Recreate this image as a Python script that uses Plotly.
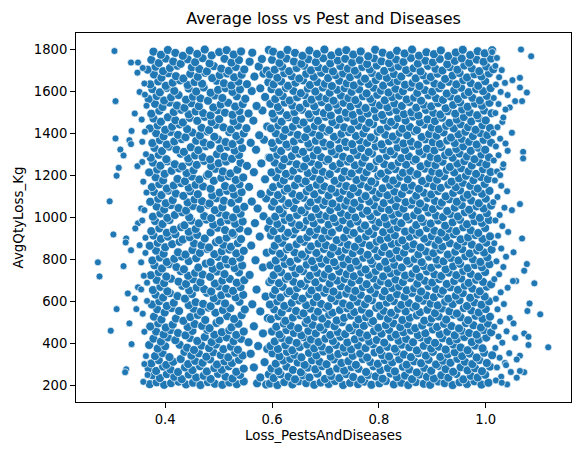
import plotly.graph_objects as go

# Points, stored as flat x, y pairs.
# x = Loss_PestsAndDiseases in thousandths, y = AvgQtyLoss_Kg

LEFT_OUTLIERS = [
    305, 1793, 307, 1554, 336, 1738, 349, 1738, 348, 1690, 343, 1495, 337, 1412,
    307, 1376, 333, 1368, 336, 1349, 316, 1323, 322, 1295, 313, 1236, 309, 1198,
    348, 1244, 296, 1076, 357, 1360, 352, 1598, 361, 1638, 355, 1042, 361, 1034,
    303, 918, 274, 785, 277, 718, 322, 767, 327, 899, 326, 880, 349, 971, 344, 947,
    336, 843, 352, 867, 355, 785, 330, 637, 343, 613, 349, 666, 355, 656, 309, 562,
    346, 562, 298, 459, 333, 494, 337, 395, 327, 275, 325, 261, 361, 454,
    358, 1712, 362, 1585, 356, 1466, 364, 1301, 359, 1170, 365, 1118, 357, 985,
    363, 902, 360, 721, 366, 688, 358, 540, 364, 338, 361, 300, 367, 248, 359, 215,
    365, 1532, 362, 1408, 357, 1264, 363, 830, 366, 601,
]

LEFT_CLUSTER_LOW = [
    371, 204, 384, 213, 398, 201, 411, 209, 425, 216, 439, 203, 452, 211, 466, 200, 480, 214, 493, 206, 507, 201, 520, 212, 534, 204, 547, 217, 572, 208, 589, 202,
    376, 247, 390, 233, 403, 252, 417, 239, 431, 228, 444, 250, 458, 236, 472, 244, 485, 229, 499, 253, 513, 240, 526, 231, 540, 248, 578, 236, 594, 251,
    369, 279, 383, 267, 396, 288, 410, 274, 424, 262, 437, 284, 451, 271, 465, 290, 478, 265, 492, 281, 506, 273, 519, 289, 533, 263, 547, 278, 566, 284,
    374, 303, 388, 318, 402, 296, 415, 311, 429, 324, 443, 300, 456, 315, 470, 306, 484, 322, 497, 298, 511, 313, 525, 305, 538, 320, 586, 309,
    381, 338, 395, 352, 408, 333, 436, 358, 449, 340, 463, 351, 477, 335, 490, 356, 504, 343, 518, 332, 531, 354, 545, 341, 560, 349,
    370, 391, 386, 374, 400, 385, 427, 392, 441, 378, 454, 367, 468, 388, 482, 376, 495, 393, 509, 371, 523, 383, 536, 368, 574, 386, 591, 372,
    378, 421, 392, 407, 405, 427, 419, 414, 446, 424, 460, 410, 474, 429, 487, 405, 501, 418, 515, 427, 528, 409, 542, 420, 556, 404,
    383, 455, 397, 441, 410, 462, 424, 448, 438, 437, 451, 458, 479, 463, 492, 440, 506, 452, 520, 461, 533, 439, 547, 455, 583, 446,
    372, 479, 387, 494, 401, 474, 414, 488, 442, 477, 455, 491, 469, 482, 483, 471, 496, 496, 524, 475, 537, 492, 566, 480,
    379, 526, 393, 512, 420, 517, 434, 506, 447, 524, 461, 534, 475, 510, 502, 507, 516, 529, 529, 515, 543, 533, 592, 519,
    385, 561, 399, 546, 412, 567, 426, 553, 453, 564, 467, 550, 481, 569, 494, 545, 508, 558, 522, 566, 549, 560, 578, 551,
]

LEFT_CLUSTER_MID = [
    375, 584, 389, 599, 403, 577, 416, 592, 444, 581, 457, 595, 471, 587, 485, 576, 498, 601, 512, 589, 539, 597, 563, 585,
    382, 631, 396, 617, 409, 638, 423, 624, 437, 612, 450, 634, 478, 640, 491, 614, 505, 628, 519, 636, 532, 618, 546, 630, 588, 622,
    377, 653, 391, 668, 404, 647, 432, 673, 445, 651, 459, 665, 473, 657, 486, 646, 500, 671, 514, 659, 527, 649, 541, 667, 571, 655,
    384, 701, 398, 686, 411, 707, 425, 693, 439, 682, 452, 704, 466, 690, 493, 684, 507, 698, 521, 706, 534, 688, 548, 700, 595, 691,
    373, 724, 388, 738, 402, 717, 429, 743, 443, 721, 456, 735, 470, 727, 484, 716, 497, 741, 511, 729, 538, 737, 558, 725,
    380, 771, 394, 756, 407, 777, 421, 763, 435, 752, 462, 760, 476, 779, 489, 754, 503, 768, 517, 776, 530, 758, 544, 770, 583, 761,
    376, 794, 390, 808, 403, 787, 417, 802, 431, 813, 444, 791, 458, 805, 485, 786, 499, 811, 513, 799, 526, 789, 540, 807, 569, 795,
    383, 841, 397, 826, 424, 833, 438, 822, 451, 844, 465, 830, 479, 849, 492, 824, 506, 838, 520, 846, 533, 828, 547, 840, 590, 831,
    371, 864, 386, 878, 400, 857, 413, 872, 427, 883, 454, 875, 468, 867, 482, 856, 495, 881, 509, 869, 523, 859, 536, 877, 561, 865,
    378, 913, 392, 897, 405, 908, 419, 919, 433, 894, 446, 905, 460, 916, 474, 899, 501, 891, 515, 903, 528, 918, 542, 896, 577, 908,
    374, 934, 389, 947, 403, 926, 416, 941, 430, 953, 444, 931, 457, 944, 485, 928, 498, 950, 512, 939, 526, 925, 539, 946, 555, 933, 593, 948,
    381, 982, 395, 968, 408, 987, 436, 962, 449, 984, 463, 971, 477, 989, 490, 965, 504, 977, 518, 986, 531, 969, 545, 980, 568, 972,
    377, 1003, 391, 1018, 404, 997, 418, 1011, 432, 1024, 445, 1000, 473, 1006, 486, 996, 500, 1021, 514, 1009, 527, 999, 541, 1017, 584, 1005,
    384, 1051, 398, 1037, 411, 1058, 425, 1044, 439, 1032, 452, 1054, 466, 1040, 480, 1059, 493, 1034, 507, 1048, 534, 1038, 548, 1050, 573, 1042,
]

LEFT_CLUSTER_HIGH = [
    372, 1074, 387, 1088, 401, 1067, 414, 1082, 442, 1071, 455, 1085, 469, 1077, 483, 1066, 496, 1091, 510, 1079, 524, 1069, 537, 1087, 562, 1075, 589, 1090,
    379, 1121, 393, 1106, 406, 1127, 420, 1113, 434, 1102, 447, 1124, 461, 1110, 488, 1104, 502, 1118, 516, 1126, 529, 1108, 543, 1120, 579, 1111,
    375, 1144, 389, 1158, 403, 1137, 416, 1152, 430, 1163, 444, 1141, 457, 1155, 471, 1147, 485, 1136, 512, 1149, 526, 1139, 539, 1157, 557, 1145,
    382, 1191, 396, 1176, 423, 1183, 437, 1172, 450, 1194, 464, 1180, 478, 1199, 491, 1174, 505, 1188, 519, 1196, 532, 1178, 546, 1190, 587, 1181,
    370, 1214, 385, 1228, 399, 1207, 412, 1222, 426, 1233, 440, 1211, 453, 1225, 481, 1206, 494, 1231, 508, 1219, 522, 1209, 535, 1227, 566, 1215,
    377, 1261, 391, 1246, 404, 1267, 418, 1253, 432, 1242, 445, 1264, 459, 1250, 473, 1269, 486, 1244, 500, 1258, 514, 1266, 541, 1260, 553, 1245, 580, 1257,
    373, 1284, 388, 1298, 402, 1277, 429, 1303, 443, 1281, 456, 1295, 470, 1287, 484, 1276, 497, 1301, 511, 1289, 525, 1279, 538, 1297, 594, 1285,
    380, 1331, 394, 1316, 407, 1337, 421, 1323, 435, 1312, 448, 1334, 462, 1320, 476, 1339, 503, 1328, 517, 1336, 530, 1318, 544, 1330, 570, 1322,
    376, 1354, 390, 1368, 403, 1347, 417, 1362, 431, 1373, 458, 1365, 472, 1357, 485, 1346, 499, 1371, 513, 1359, 526, 1349, 540, 1367, 560, 1355, 585, 1370,
    383, 1401, 397, 1386, 410, 1407, 424, 1393, 438, 1382, 451, 1404, 465, 1390, 479, 1409, 492, 1384, 520, 1406, 533, 1388, 547, 1400, 576, 1391,
    371, 1424, 386, 1438, 400, 1417, 413, 1432, 427, 1443, 441, 1421, 468, 1427, 482, 1416, 495, 1441, 509, 1429, 523, 1419, 536, 1437, 552, 1425, 591, 1433,
    378, 1471, 392, 1456, 405, 1477, 419, 1463, 433, 1452, 446, 1474, 460, 1460, 474, 1479, 487, 1454, 501, 1468, 528, 1458, 542, 1470, 565, 1461,
]

LEFT_CLUSTER_TOP = [
    374, 1494, 389, 1508, 416, 1502, 430, 1513, 444, 1491, 457, 1505, 471, 1497, 485, 1486, 498, 1511, 512, 1499, 526, 1489, 539, 1507, 556, 1495, 582, 1509,
    381, 1541, 395, 1526, 408, 1547, 422, 1533, 436, 1522, 449, 1544, 463, 1530, 490, 1524, 504, 1538, 518, 1546, 531, 1528, 545, 1540, 571, 1531, 596, 1545,
    369, 1564, 384, 1578, 398, 1557, 411, 1572, 425, 1583, 439, 1561, 452, 1575, 466, 1567, 480, 1556, 493, 1581, 507, 1569, 534, 1577, 550, 1565, 587, 1574,
    376, 1611, 390, 1596, 403, 1617, 417, 1603, 444, 1614, 458, 1600, 472, 1619, 485, 1594, 499, 1608, 513, 1616, 526, 1598, 540, 1610, 562, 1602, 578, 1615,
    372, 1634, 387, 1648, 401, 1627, 414, 1642, 428, 1653, 442, 1631, 455, 1645, 469, 1637, 496, 1651, 510, 1639, 524, 1629, 537, 1647, 553, 1635, 593, 1644,
    379, 1681, 393, 1666, 406, 1687, 420, 1673, 434, 1662, 447, 1684, 461, 1670, 475, 1689, 488, 1664, 502, 1678, 516, 1686, 529, 1668, 543, 1680, 567, 1671, 584, 1685,
    367, 1704, 382, 1718, 396, 1697, 409, 1712, 423, 1723, 450, 1715, 464, 1707, 478, 1696, 491, 1721, 505, 1709, 519, 1699, 532, 1717, 548, 1705, 575, 1719, 590, 1700,
    374, 1751, 388, 1736, 401, 1757, 415, 1743, 429, 1732, 442, 1754, 456, 1740, 470, 1759, 483, 1734, 511, 1756, 524, 1738, 538, 1750, 558, 1742, 581, 1755,
    378, 1790, 392, 1775, 405, 1798, 419, 1784, 433, 1770, 446, 1795, 460, 1779, 474, 1800, 487, 1772, 501, 1788, 515, 1797, 528, 1776, 542, 1791, 563, 1785, 594, 1798,
]

RIGHT_CLUSTER_LOW = [
    596, 207, 610, 200, 623, 214, 638, 203, 650, 218, 664, 209, 679, 201, 691, 212, 706, 205, 718, 219, 733, 200, 746, 210, 761, 204, 773, 216, 786, 201, 801, 208, 813, 219, 828, 203, 842, 211, 855, 200, 869, 214, 884, 206, 896, 201, 911, 217, 923, 209, 938, 200, 951, 213, 965, 205, 979, 218, 992, 202, 1005, 211,
    603, 233, 616, 251, 631, 240, 643, 227, 658, 246, 670, 236, 685, 254, 699, 229, 711, 243, 726, 233, 739, 252, 752, 238, 767, 226, 780, 248, 794, 241, 807, 230, 822, 255, 834, 237, 849, 245, 862, 228, 876, 250, 890, 239, 903, 231, 917, 247, 930, 235, 945, 253, 958, 227, 972, 244, 985, 236, 999, 249,
    599, 279, 612, 266, 627, 288, 639, 272, 654, 261, 667, 283, 681, 275, 694, 290, 708, 264, 722, 279, 735, 269, 749, 286, 762, 277, 776, 262, 790, 289, 803, 271, 817, 281, 830, 265, 845, 287, 857, 274, 871, 260, 885, 282, 898, 268, 912, 291, 925, 276, 939, 263, 953, 285, 966, 270, 980, 280, 993, 266, 1008, 288,
    607, 302, 621, 317, 634, 325, 648, 307, 661, 296, 675, 318, 689, 311, 702, 299, 716, 322, 730, 305, 743, 314, 757, 296, 770, 324, 784, 310, 798, 301, 811, 319, 825, 308, 838, 323, 852, 297, 866, 313, 879, 304, 893, 320, 907, 298, 920, 316, 934, 306, 947, 325, 961, 311, 975, 300, 988, 319, 1002, 305,
    601, 351, 614, 337, 628, 358, 642, 344, 655, 332, 669, 353, 683, 341, 696, 360, 710, 335, 724, 348, 737, 357, 751, 339, 765, 350, 778, 331, 792, 355, 806, 343, 819, 336, 833, 359, 847, 345, 860, 333, 874, 352, 888, 340, 901, 358, 915, 334, 929, 347, 942, 356, 956, 338, 970, 350, 983, 331, 997, 354, 1012, 342,
    597, 386, 611, 372, 625, 390, 638, 366, 652, 381, 666, 393, 679, 375, 693, 384, 707, 368, 720, 391, 734, 378, 748, 370, 761, 389, 775, 376, 789, 394, 802, 367, 816, 382, 830, 373, 843, 392, 857, 380, 871, 365, 884, 387, 898, 374, 912, 383, 925, 369, 939, 393, 953, 379, 966, 366, 980, 388, 994, 375,
    605, 408, 618, 424, 632, 413, 646, 401, 659, 428, 673, 417, 687, 405, 700, 421, 714, 410, 728, 430, 741, 403, 755, 418, 769, 426, 782, 407, 796, 415, 810, 402, 823, 429, 837, 411, 851, 420, 864, 404, 878, 427, 892, 414, 905, 401, 919, 423, 933, 409, 946, 418, 960, 429, 974, 405, 987, 416, 1001, 426,
    600, 455, 614, 441, 627, 462, 641, 448, 655, 437, 668, 458, 682, 446, 696, 464, 709, 439, 723, 453, 737, 443, 750, 461, 764, 449, 778, 436, 791, 457, 805, 445, 819, 463, 832, 440, 846, 452, 860, 460, 873, 438, 887, 447, 901, 465, 914, 442, 928, 454, 942, 437, 955, 459, 969, 448, 983, 440, 996, 462, 1010, 451,
    608, 478, 622, 493, 635, 483, 649, 471, 663, 496, 676, 487, 690, 475, 704, 491, 717, 480, 731, 499, 745, 472, 758, 489, 772, 482, 786, 497, 799, 473, 813, 486, 827, 494, 840, 476, 854, 490, 868, 471, 881, 484, 895, 498, 909, 477, 922, 492, 936, 481, 950, 470, 963, 495, 977, 485, 991, 474, 1004, 493,
    598, 514, 612, 528, 625, 506, 639, 522, 653, 533, 666, 511, 680, 525, 694, 517, 707, 535, 721, 508, 735, 520, 748, 531, 762, 513, 776, 524, 789, 505, 803, 529, 817, 516, 830, 534, 844, 510, 858, 521, 871, 532, 885, 507, 899, 518, 912, 527, 926, 512, 940, 535, 953, 523, 967, 509, 981, 530, 994, 516, 1008, 526,
    604, 561, 618, 546, 631, 567, 645, 553, 659, 542, 672, 564, 686, 550, 700, 569, 713, 545, 727, 558, 741, 566, 754, 548, 768, 560, 782, 541, 795, 568, 809, 554, 823, 544, 836, 563, 850, 551, 864, 570, 877, 547, 891, 559, 905, 543, 918, 565, 932, 552, 946, 541, 959, 567, 973, 556, 987, 546, 1000, 562,
]

RIGHT_CLUSTER_MID = [
    596, 584, 610, 599, 623, 577, 637, 592, 651, 603, 664, 581, 678, 595, 692, 587, 705, 576, 719, 601, 733, 589, 746, 579, 760, 597, 774, 585, 787, 604, 801, 578, 815, 593, 828, 600, 842, 582, 856, 591, 869, 576, 883, 602, 897, 588, 910, 580, 924, 598, 938, 586, 951, 604, 965, 577, 979, 594, 992, 583, 1006, 599,
    602, 631, 616, 617, 629, 638, 643, 624, 657, 612, 670, 634, 684, 620, 698, 640, 711, 614, 725, 628, 739, 636, 752, 618, 766, 630, 780, 611, 793, 637, 807, 623, 821, 615, 834, 633, 848, 621, 862, 639, 875, 613, 889, 627, 903, 619, 916, 635, 930, 612, 944, 626, 957, 638, 971, 616, 985, 632, 998, 622,
    606, 653, 620, 668, 633, 647, 647, 662, 661, 673, 674, 651, 688, 665, 702, 657, 715, 646, 729, 671, 743, 659, 756, 649, 770, 667, 784, 655, 797, 674, 811, 648, 825, 663, 838, 670, 852, 652, 866, 661, 879, 646, 893, 672, 907, 658, 920, 650, 934, 666, 948, 654, 961, 674, 975, 660, 989, 647, 1002, 669,
    599, 701, 613, 686, 626, 707, 640, 693, 654, 682, 667, 704, 681, 690, 695, 709, 708, 684, 722, 698, 736, 706, 749, 688, 763, 700, 777, 681, 790, 708, 804, 694, 818, 685, 831, 703, 845, 691, 859, 710, 872, 683, 886, 697, 900, 689, 913, 705, 927, 682, 941, 696, 954, 708, 968, 687, 982, 702, 995, 692, 1010, 680,
    603, 724, 617, 738, 630, 717, 644, 732, 658, 743, 671, 721, 685, 735, 699, 727, 712, 716, 726, 741, 740, 729, 753, 719, 767, 737, 781, 725, 794, 744, 808, 718, 822, 733, 835, 740, 849, 722, 863, 731, 876, 716, 890, 742, 904, 728, 917, 720, 931, 736, 945, 724, 958, 744, 972, 730, 986, 717, 999, 739,
    597, 771, 611, 756, 624, 777, 638, 763, 652, 752, 665, 774, 679, 760, 693, 779, 706, 754, 720, 768, 734, 776, 747, 758, 761, 770, 775, 751, 788, 778, 802, 764, 816, 755, 829, 773, 843, 761, 857, 780, 870, 753, 884, 767, 898, 759, 911, 775, 925, 752, 939, 766, 952, 778, 966, 757, 980, 772, 993, 762, 1007, 776,
    607, 794, 621, 808, 634, 787, 648, 802, 662, 813, 675, 791, 689, 805, 703, 797, 716, 786, 730, 811, 744, 799, 757, 789, 771, 807, 785, 795, 798, 814, 812, 788, 826, 803, 839, 810, 853, 792, 867, 801, 880, 786, 894, 812, 908, 798, 921, 790, 935, 806, 949, 794, 962, 814, 976, 800, 990, 787, 1003, 809,
    601, 841, 615, 826, 628, 847, 642, 833, 656, 822, 669, 844, 683, 830, 697, 849, 710, 824, 724, 838, 738, 846, 751, 828, 765, 840, 779, 821, 792, 848, 806, 834, 820, 825, 833, 843, 847, 831, 861, 850, 874, 823, 888, 837, 902, 829, 915, 845, 929, 822, 943, 836, 956, 848, 970, 827, 984, 842, 997, 832, 1011, 846,
    605, 864, 619, 878, 632, 857, 646, 872, 660, 883, 673, 861, 687, 875, 701, 867, 714, 856, 728, 881, 742, 869, 755, 859, 769, 877, 783, 865, 796, 884, 810, 858, 824, 873, 837, 880, 851, 862, 865, 871, 878, 856, 892, 882, 906, 868, 919, 860, 933, 876, 947, 864, 960, 884, 974, 870, 988, 857, 1001, 879,
    598, 913, 612, 897, 625, 908, 639, 919, 653, 894, 666, 905, 680, 916, 694, 899, 707, 911, 721, 891, 735, 903, 748, 918, 762, 896, 776, 909, 789, 920, 803, 893, 817, 902, 830, 914, 844, 890, 858, 907, 871, 917, 885, 898, 899, 910, 912, 892, 926, 906, 940, 919, 953, 895, 967, 904, 981, 915, 994, 897, 1008, 909,
    603, 934, 617, 947, 630, 926, 644, 941, 658, 953, 671, 931, 685, 944, 699, 937, 712, 928, 726, 950, 740, 939, 753, 925, 767, 946, 781, 933, 794, 954, 808, 929, 822, 942, 835, 951, 849, 932, 863, 940, 876, 926, 890, 948, 904, 936, 917, 927, 931, 945, 945, 934, 958, 952, 972, 938, 986, 925, 999, 949,
    596, 982, 610, 968, 624, 987, 637, 974, 651, 962, 665, 984, 678, 971, 692, 989, 706, 965, 719, 977, 733, 986, 747, 969, 760, 980, 774, 961, 788, 988, 801, 975, 815, 966, 829, 983, 842, 972, 856, 990, 870, 963, 883, 978, 897, 970, 911, 985, 924, 960, 938, 976, 952, 988, 965, 967, 979, 981, 993, 973, 1006, 987,
]

RIGHT_CLUSTER_HIGH = [
    606, 1003, 620, 1018, 633, 997, 647, 1011, 661, 1024, 674, 1000, 688, 1014, 702, 1006, 715, 996, 729, 1021, 743, 1009, 756, 999, 770, 1017, 784, 1005, 797, 1025, 811, 998, 825, 1012, 838, 1020, 852, 1002, 866, 1010, 879, 995, 893, 1023, 907, 1008, 920, 1001, 934, 1016, 948, 1004, 961, 1024, 975, 1011, 989, 997, 1002, 1019,
    600, 1051, 614, 1037, 627, 1058, 641, 1044, 655, 1032, 668, 1054, 682, 1040, 696, 1059, 709, 1034, 723, 1048, 737, 1056, 750, 1038, 764, 1050, 778, 1031, 791, 1057, 805, 1043, 819, 1035, 832, 1053, 846, 1041, 860, 1060, 873, 1033, 887, 1047, 901, 1039, 914, 1055, 928, 1030, 942, 1046, 955, 1058, 969, 1036, 983, 1052, 996, 1042, 1010, 1056,
    604, 1074, 618, 1088, 631, 1067, 645, 1082, 659, 1093, 672, 1071, 686, 1085, 700, 1077, 713, 1066, 727, 1091, 741, 1079, 754, 1069, 768, 1087, 782, 1075, 795, 1094, 809, 1068, 823, 1083, 836, 1090, 850, 1072, 864, 1081, 877, 1066, 891, 1092, 905, 1078, 918, 1070, 932, 1086, 946, 1074, 959, 1094, 973, 1080, 987, 1067, 1000, 1089,
    597, 1121, 611, 1106, 624, 1127, 638, 1113, 652, 1102, 665, 1124, 679, 1110, 693, 1129, 706, 1104, 720, 1118, 734, 1126, 747, 1108, 761, 1120, 775, 1101, 788, 1128, 802, 1114, 816, 1105, 829, 1123, 843, 1111, 857, 1130, 870, 1103, 884, 1117, 898, 1109, 911, 1125, 925, 1100, 939, 1116, 952, 1128, 966, 1107, 980, 1122, 993, 1112, 1007, 1126,
    602, 1144, 616, 1158, 629, 1137, 643, 1152, 657, 1163, 670, 1141, 684, 1155, 698, 1147, 711, 1136, 725, 1161, 739, 1149, 752, 1139, 766, 1157, 780, 1145, 793, 1164, 807, 1138, 821, 1153, 834, 1160, 848, 1142, 862, 1151, 875, 1136, 889, 1162, 903, 1148, 916, 1140, 930, 1156, 944, 1144, 957, 1164, 971, 1150, 985, 1137, 998, 1159,
    608, 1191, 622, 1176, 635, 1197, 649, 1183, 663, 1172, 676, 1194, 690, 1180, 704, 1199, 717, 1174, 731, 1188, 745, 1196, 758, 1178, 772, 1190, 786, 1171, 799, 1198, 813, 1184, 827, 1175, 840, 1193, 854, 1181, 868, 1200, 881, 1173, 895, 1187, 909, 1179, 922, 1195, 936, 1170, 950, 1186, 963, 1198, 977, 1177, 991, 1192, 1004, 1182,
    599, 1214, 613, 1228, 626, 1207, 640, 1222, 654, 1233, 667, 1211, 681, 1225, 695, 1217, 708, 1206, 722, 1231, 736, 1219, 749, 1209, 763, 1227, 777, 1215, 790, 1234, 804, 1208, 818, 1223, 831, 1230, 845, 1212, 859, 1221, 872, 1206, 886, 1232, 900, 1218, 913, 1210, 927, 1226, 941, 1214, 954, 1234, 968, 1220, 982, 1207, 995, 1229, 1009, 1216,
    605, 1261, 619, 1246, 632, 1267, 646, 1253, 660, 1242, 673, 1264, 687, 1250, 701, 1269, 714, 1244, 728, 1258, 742, 1266, 755, 1248, 769, 1260, 783, 1241, 796, 1268, 810, 1254, 824, 1245, 837, 1263, 851, 1251, 865, 1270, 878, 1243, 892, 1257, 906, 1249, 919, 1265, 933, 1240, 947, 1256, 960, 1268, 974, 1247, 988, 1262, 1001, 1252,
    596, 1284, 610, 1298, 623, 1277, 637, 1292, 651, 1303, 664, 1281, 678, 1295, 692, 1287, 705, 1276, 719, 1301, 733, 1289, 746, 1279, 760, 1297, 774, 1285, 787, 1304, 801, 1278, 815, 1293, 828, 1300, 842, 1282, 856, 1291, 869, 1276, 883, 1302, 897, 1288, 910, 1280, 924, 1296, 938, 1284, 951, 1304, 965, 1290, 979, 1277, 992, 1299, 1006, 1286,
    603, 1331, 617, 1316, 630, 1337, 644, 1323, 658, 1312, 671, 1334, 685, 1320, 699, 1339, 712, 1314, 726, 1328, 740, 1336, 753, 1318, 767, 1330, 781, 1311, 794, 1338, 808, 1324, 822, 1315, 835, 1333, 849, 1321, 863, 1340, 876, 1313, 890, 1327, 904, 1319, 917, 1335, 931, 1310, 945, 1326, 958, 1338, 972, 1317, 986, 1332, 999, 1322,
    600, 1354, 614, 1368, 627, 1347, 641, 1362, 655, 1373, 668, 1351, 682, 1365, 696, 1357, 709, 1346, 723, 1371, 737, 1359, 750, 1349, 764, 1367, 778, 1355, 791, 1374, 805, 1348, 819, 1363, 832, 1370, 846, 1352, 860, 1361, 873, 1346, 887, 1372, 901, 1358, 914, 1350, 928, 1366, 942, 1354, 955, 1374, 969, 1360, 983, 1347, 996, 1369, 1010, 1356,
    607, 1401, 621, 1386, 634, 1407, 648, 1393, 662, 1382, 675, 1404, 689, 1390, 703, 1409, 716, 1384, 730, 1398, 744, 1406, 757, 1388, 771, 1400, 785, 1381, 798, 1408, 812, 1394, 826, 1385, 839, 1403, 853, 1391, 867, 1410, 880, 1383, 894, 1397, 908, 1389, 921, 1405, 935, 1380, 949, 1396, 962, 1408, 976, 1387, 990, 1402, 1003, 1392,
]

RIGHT_CLUSTER_TOP = [
    598, 1424, 612, 1438, 625, 1417, 639, 1432, 653, 1443, 666, 1421, 680, 1435, 694, 1427, 707, 1416, 721, 1441, 735, 1429, 748, 1419, 762, 1437, 776, 1425, 789, 1444, 803, 1418, 817, 1433, 830, 1440, 844, 1422, 858, 1431, 871, 1416, 885, 1442, 899, 1428, 912, 1420, 926, 1436, 940, 1424, 953, 1444, 967, 1430, 981, 1417, 994, 1439, 1008, 1426,
    604, 1471, 618, 1456, 631, 1477, 645, 1463, 659, 1452, 672, 1474, 686, 1460, 700, 1479, 713, 1454, 727, 1468, 741, 1476, 754, 1458, 768, 1470, 782, 1451, 795, 1478, 809, 1464, 823, 1455, 836, 1473, 850, 1461, 864, 1480, 877, 1453, 891, 1467, 905, 1459, 918, 1475, 932, 1450, 946, 1466, 959, 1478, 973, 1457, 987, 1472, 1000, 1462,
    601, 1494, 615, 1508, 628, 1487, 642, 1502, 656, 1513, 669, 1491, 683, 1505, 697, 1497, 710, 1486, 724, 1511, 738, 1499, 751, 1489, 765, 1507, 779, 1495, 792, 1514, 806, 1488, 820, 1503, 833, 1510, 847, 1492, 861, 1501, 874, 1486, 888, 1512, 902, 1498, 915, 1490, 929, 1506, 943, 1494, 956, 1514, 970, 1500, 984, 1487, 997, 1509, 1011, 1496,
    597, 1541, 611, 1526, 624, 1547, 638, 1533, 652, 1522, 665, 1544, 679, 1530, 693, 1549, 706, 1524, 720, 1538, 734, 1546, 747, 1528, 761, 1540, 775, 1521, 788, 1548, 802, 1534, 816, 1525, 829, 1543, 843, 1531, 857, 1550, 870, 1523, 884, 1537, 898, 1529, 911, 1545, 925, 1520, 939, 1536, 952, 1548, 966, 1527, 980, 1542, 993, 1532, 1007, 1546,
    606, 1564, 620, 1578, 633, 1557, 647, 1572, 661, 1583, 674, 1561, 688, 1575, 702, 1567, 715, 1556, 729, 1581, 743, 1569, 756, 1559, 770, 1577, 784, 1565, 797, 1584, 811, 1558, 825, 1573, 838, 1580, 852, 1562, 866, 1571, 879, 1556, 893, 1582, 907, 1568, 920, 1560, 934, 1576, 948, 1564, 961, 1584, 975, 1570, 989, 1557, 1002, 1579,
    599, 1611, 613, 1596, 626, 1617, 640, 1603, 654, 1592, 667, 1614, 681, 1600, 695, 1619, 708, 1594, 722, 1608, 736, 1616, 749, 1598, 763, 1610, 777, 1591, 790, 1618, 804, 1604, 818, 1595, 831, 1613, 845, 1601, 859, 1620, 872, 1593, 886, 1607, 900, 1599, 913, 1615, 927, 1590, 941, 1606, 954, 1618, 968, 1597, 982, 1612, 995, 1602, 1009, 1616,
    603, 1634, 617, 1648, 630, 1627, 644, 1642, 658, 1653, 671, 1631, 685, 1645, 699, 1637, 712, 1626, 726, 1651, 740, 1639, 753, 1629, 767, 1647, 781, 1635, 794, 1654, 808, 1628, 822, 1643, 835, 1650, 849, 1632, 863, 1641, 876, 1626, 890, 1652, 904, 1638, 917, 1630, 931, 1646, 945, 1634, 958, 1654, 972, 1640, 986, 1627, 999, 1649,
    596, 1681, 610, 1666, 623, 1687, 637, 1673, 651, 1662, 664, 1684, 678, 1670, 692, 1689, 705, 1664, 719, 1678, 733, 1686, 746, 1668, 760, 1680, 774, 1661, 787, 1688, 801, 1674, 815, 1665, 828, 1683, 842, 1671, 856, 1690, 869, 1663, 883, 1677, 897, 1669, 910, 1685, 924, 1660, 938, 1676, 951, 1688, 965, 1667, 979, 1682, 992, 1672, 1006, 1686,
    605, 1704, 619, 1718, 632, 1697, 646, 1712, 660, 1723, 673, 1701, 687, 1715, 701, 1707, 714, 1696, 728, 1721, 742, 1709, 755, 1699, 769, 1717, 783, 1705, 796, 1724, 810, 1698, 824, 1713, 837, 1720, 851, 1702, 865, 1711, 878, 1696, 892, 1722, 906, 1708, 919, 1700, 933, 1716, 947, 1704, 960, 1724, 974, 1710, 988, 1697, 1001, 1719, 1014, 1706,
    600, 1751, 614, 1736, 627, 1757, 641, 1743, 655, 1732, 668, 1754, 682, 1740, 696, 1759, 709, 1734, 723, 1748, 737, 1756, 750, 1738, 764, 1750, 778, 1731, 791, 1758, 805, 1744, 819, 1735, 832, 1753, 846, 1741, 860, 1760, 873, 1733, 887, 1747, 901, 1739, 914, 1755, 928, 1730, 942, 1746, 955, 1758, 969, 1737, 983, 1752, 996, 1742, 1010, 1757,
    602, 1790, 616, 1775, 629, 1798, 643, 1784, 657, 1770, 670, 1795, 684, 1779, 698, 1800, 711, 1772, 725, 1788, 739, 1797, 752, 1776, 766, 1791, 780, 1768, 793, 1799, 807, 1785, 821, 1773, 834, 1794, 848, 1781, 862, 1800, 875, 1771, 889, 1787, 903, 1778, 916, 1796, 930, 1769, 944, 1786, 957, 1799, 971, 1774, 985, 1792, 998, 1782, 1012, 1797,
]

RIGHT_EDGE = [
    1012, 1788, 1021, 1760, 1018, 1722, 1030, 1702, 1025, 1668, 1036, 1641, 1019, 1633, 1028, 1598,
    1041, 1583, 1015, 1569, 1024, 1540, 1018, 1497, 1031, 1455, 1022, 1430, 1014, 1402, 1027, 1375,
    1037, 1352, 1019, 1338, 1024, 1296, 1015, 1271, 1032, 1237, 1021, 1219, 1017, 1176, 1029, 1150,
    1040, 1124, 1022, 1097, 1014, 1072, 1035, 1046, 1026, 1011, 1018, 985, 1031, 958, 1042, 930,
    1023, 912, 1016, 876, 1029, 851, 1038, 812, 1020, 790, 1033, 763, 1025, 728, 1016, 705,
    1041, 664, 1028, 642, 1019, 611, 1034, 586, 1022, 561, 1045, 520, 1027, 503, 1016, 478,
    1039, 456, 1024, 431, 1031, 402, 1018, 377, 1044, 352, 1026, 330, 1036, 305, 1021, 284,
    1047, 262, 1029, 240, 1019, 222, 1040, 203,
]

RIGHT_OUTLIERS = [
    1066, 1800, 1085, 1768, 1050, 1654, 1064, 1665, 1064, 1619, 1077, 1595, 1055, 1554,
    1068, 1554, 1045, 1524, 1037, 1514, 1033, 1476, 1049, 1403, 1070, 1312, 1070, 1281,
    1041, 1317, 1064, 1063, 1049, 1034, 1033, 1253, 1027, 1201, 1068, 899, 1052, 833,
    1077, 777, 1072, 745, 1057, 696, 1051, 696, 1091, 685, 1082, 589, 1078, 553, 1102, 537,
    1052, 494, 1072, 446, 1080, 430, 1080, 391, 1117, 380, 1055, 425, 1064, 340, 1058, 322,
    1072, 261, 1064, 267, 1058, 235, 1030, 211, 1038, 295,
]

X_TICKS = [0.4, 0.6, 0.8, 1.0]
X_TICK_LABELS = ["0.4", "0.6", "0.8", "1.0"]
Y_TICKS = [200, 400, 600, 800, 1000, 1200, 1400, 1600, 1800]

DENSE = [LEFT_CLUSTER_LOW, LEFT_CLUSTER_MID, LEFT_CLUSTER_HIGH, LEFT_CLUSTER_TOP,
         RIGHT_CLUSTER_LOW, RIGHT_CLUSTER_MID, RIGHT_CLUSTER_HIGH, RIGHT_CLUSTER_TOP]
SPARSE = [LEFT_OUTLIERS, RIGHT_EDGE, RIGHT_OUTLIERS]


def unpack(groups):
    xs, ys = [], []
    for g in groups:
        for x, y in zip(g[0::2], g[1::2]):
            xs.append(x / 1000)
            ys.append(y)
    return xs, ys


fig = go.Figure()
for groups, size in [(DENSE, 9), (SPARSE, 7)]:
    xs, ys = unpack(groups)
    fig.add_trace(go.Scatter(
        x=xs, y=ys, mode="markers",
        marker=dict(color="#1f77b4", size=size, line=dict(color="white", width=0.7)),
    ))

axis_style = dict(
    showline=True, linecolor="black", linewidth=1, mirror=True,
    ticks="outside", ticklen=5, tickcolor="black", tickwidth=1,
    showgrid=False, zeroline=False,
    tickfont=dict(size=13.2, color="black"),
)

# the page body adds an 8px margin, so the figure is 8px smaller than the window
fig.update_layout(
    width=572, height=447,
    margin=dict(l=68, r=9, t=25, b=53),
    paper_bgcolor="white", plot_bgcolor="white",
    font=dict(family="DejaVu Sans", size=13.2, color="black"),
    title=dict(text="Average loss vs Pest and Diseases", xref="paper", x=0.5, xanchor="center",
               yref="container", y=0.977, yanchor="middle", font=dict(size=16, color="black")),
    showlegend=False,
)
fig.update_xaxes(range=[0.233, 1.1596], tickvals=X_TICKS, ticktext=X_TICK_LABELS,
                 title=dict(text="Loss_PestsAndDiseases", standoff=4, font=dict(size=13.4)),
                 **axis_style)
fig.update_yaxes(range=[119, 1879], tickvals=Y_TICKS,
                 title=dict(text="AvgQtyLoss_Kg", standoff=7, font=dict(size=13.4)),
                 **axis_style)

fig.write_html("out.html")
